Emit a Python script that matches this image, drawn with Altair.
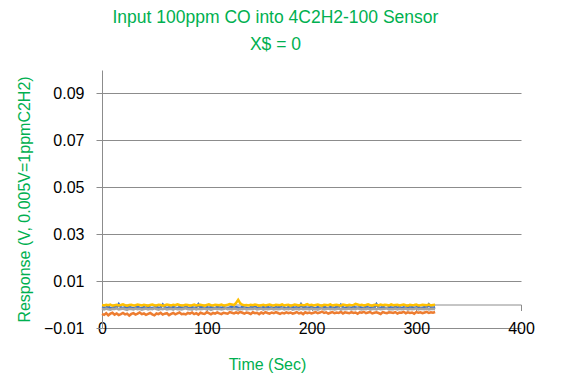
import altair as alt
import pandas as pd

# Time (s), sampled every 2 s
time_s = list(range(0, 320, 2))

# Responses in units of 1e-4 V
series1 = [
    -11, -14, -12, -9, -15, -13, -10, -14, 2, -12, -15, -11, -13, -9, -14, -16, -12, -10, -13, -15,
    -11, -14, -8, -13, -15, -12, -10, -14, -13, 0, -11, -15, -12, -14, -10, -13, -16, -11, -12, -14,
    -9, -13, -15, -11, -14, -12, 1, -13, -10, -15, -12, -14, -11, -13, -16, -10, -12, -14, -11, -13,
    -15, -12, -9, -14, -11, -13, -15, -10, -12, -14, -17, -11, -13, -6, -15, -12, -14, -11, -13, -10,
    -14, -12, -15, -11, -13, -9, -14, -12, -16, -11, -13, -10, -14, -12, -15, 1, -13, -11, -14, -12,
    -10, -13, -15, -11, -14, -12, -9, -13, -15, -11, -12, -14, -10, -13, -1, -12, -15, -11, -13, -14,
    -10, -12, -14, -11, -13, -15, -7, -12, -14, -11, -13, 2, -12, -14, -10, -13, -15, -11, -12, -14,
    -10, -13, -11, -15, -12, -14, -9, -13, -11, -14, -12, -10, -15, -13, -11, -14, 0, -12, -13, -11,
]
series2 = [
    -40, -44, -37, -46, -39, -35, -43, -38, -45, -41, -36, -42, -39, -47, -40, -37, -43, -39, -34, -41,
    -38, -44, -40, -36, -42, -46, -38, -41, -35, -43, -39, -37, -45, -40, -36, -42, -38, -34, -41, -39,
    -42, -36, -39, -34, -41, -37, -43, -35, -38, -40, -33, -37, -42, -36, -39, -34, -38, -41, -35, -37,
    -39, -32, -35, -38, -33, -37, -31, -35, -39, -34, -36, -40, -33, -37, -35, -41, -34, -38, -32, -36,
    -39, -34, -37, -32, -36, -40, -35, -38, -33, -37, -34, -39, -36, -32, -38, -35, -41, -33, -37, -34,
    -38, -35, -32, -37, -34, -30, -36, -33, -39, -35, -32, -37, -34, -36, -31, -38, -33, -35, -37, -32,
    -36, -34, -39, -33, -35, -31, -37, -34, -32, -38, -35, -33, -36, -40, -32, -35, -37, -33, -34, -36,
    -32, -38, -34, -35, -31, -37, -33, -36, -34, -39, -32, -35, -33, -37, -34, -31, -36, -33, -35, -32,
]
series3 = [
    -18, -21, -17, -20, -22, -18, -19, -16, -21, -19, -17, -20, -23, -18, -19, -21, -17, -20, -18, -22,
    -19, -17, -21, -18, -20, -16, -19, -22, -18, -20, -17, -21, -19, -18, -22, -17, -20, -19, -21, -18,
    -16, -20, -19, -22, -17, -21, -18, -20, -19, -17, -21, -18, -23, -19, -17, -20, -18, -21, -19, -16,
    -20, -18, -21, -17, -19, -22, -18, -20, -17, -21, -19, -18, -20, -16, -21, -19, -17, -22, -18, -20,
    -19, -17, -21, -18, -20, -19, -16, -21, -18, -20, -17, -22, -19, -18, -21, -17, -20, -19, -18, -21,
    -17, -20, -19, -22, -18, -16, -21, -19, -17, -20, -18, -21, -19, -17, -22, -18, -20, -19, -17, -21,
    -18, -20, -16, -19, -21, -18, -20, -17, -22, -19, -18, -21, -17, -20, -19, -18, -16, -21, -19, -20,
    -17, -21, -18, -20, -19, -17, -22, -18, -20, -19, -16, -21, -18, -19, -20, -17, -21, -19, -18, -20,
]
series4 = [
    -2, -4, -1, -3, 0, -5, -3, -1, -4, -2, 1, -3, -5, -2, -1, -4, -3, 0, -2, -4,
    -1, -3, -5, -2, 0, -3, -4, -1, -2, -5, -3, 0, -2, -4, -1, -3, 1, -2, -4, -3,
    -1, -2, -5, -3, 0, -4, -2, -1, -3, -5, -2, 1, -3, -4, -1, -2, -3, 0, -4, -3,
    -1, 2, 0, -2, 7, 20, 5, -1, -3, -2, -4, -1, -3, 0, -2, -5, -3, -1, -4, -2,
    0, -3, -4, -1, -2, -3, 1, -4, -2, -1, -5, -3, 0, -2, -4, -1, -3, -2, 2, -3,
    -1, -4, -2, 0, -3, -5, -1, -2, -3, 1, -4, -2, -1, -3, -5, 0, -2, -4, -1, -3,
    -2, 3, 0, -3, -1, -4, -2, 1, -3, -5, -1, -2, -4, 0, -3, -1, -2, -4, 1, -3,
    -2, -1, -4, -2, 0, -3, -5, -1, -3, -2, 0, -4, -3, -1, -2, -3, 0, -4, -2, -1,
]

series_names = ["Series1", "Series2", "Series3", "Series4"]
series_colors = ["#4472C4", "#ED7D31", "#A5A5A5", "#FFC000"]
y_ticks = [-0.01, 0.01, 0.03, 0.05, 0.07, 0.09]
x_ticks = [0, 100, 200, 300, 400]

rows = []
for name, vals in zip(series_names, [series1, series2, series3, series4]):
    for t, v in zip(time_s, vals):
        rows.append({"Time": t, "Response": v * 1e-4, "Series": name})
df = pd.DataFrame(rows)

GREEN = "#00B050"
GRAY = "#8C8C8C"
FONT = "Liberation Sans"

chart = alt.Chart(df).mark_line(strokeWidth=2.5).encode(
    x=alt.X("Time:Q",
            scale=alt.Scale(domain=[0, 400], nice=False),
            axis=alt.Axis(values=x_ticks, grid=False, offset=-23.5,
                          title="Time (Sec)", titleColor=GREEN, titleFontSize=16,
                          titleFont=FONT, titleFontWeight="normal",
                          titleX=165, titleY=60, titleBaseline="middle",
                          labelFontSize=16, labelFont=FONT, labelColor="#000000",
                          labelPadding=10, tickSize=6, labelFlush=False,
                          labelOverlap=False,
                          tickColor=GRAY, domainColor=GRAY)),
    y=alt.Y("Response:Q",
            scale=alt.Scale(domain=[-0.01, 0.1], nice=False, zero=False),
            axis=alt.Axis(values=y_ticks, format=".2f", grid=True, gridColor=GRAY,
                          title="Response (V, 0.005V=1ppmC2H2)", titleColor=GREEN,
                          titleFontSize=16, titleFont=FONT, titleFontWeight="normal",
                          titlePadding=11,
                          labelFontSize=16, labelFont=FONT, labelColor="#000000",
                          labelPadding=12, tickSize=6,
                          tickColor=GRAY, domainColor=GRAY)),
    color=alt.Color("Series:N",
                    scale=alt.Scale(domain=series_names, range=series_colors),
                    legend=None),
    order=alt.Order("Time:Q"),
).properties(
    width=419,
    height=258,
    padding={"left": 8, "top": 0, "right": 5, "bottom": 5},
    title=alt.TitleParams(
        text=["Input 100ppm CO into 4C2H2-100 Sensor", "X$ = 0"],
        color=GREEN, fontSize=17.5, font=FONT, fontWeight="normal",
        lineHeight=27, anchor="middle", frame="bounds", offset=17,
    ),
).configure_view(stroke=None)

chart.save("out.html", embed_options={"renderer": "svg", "actions": False})
